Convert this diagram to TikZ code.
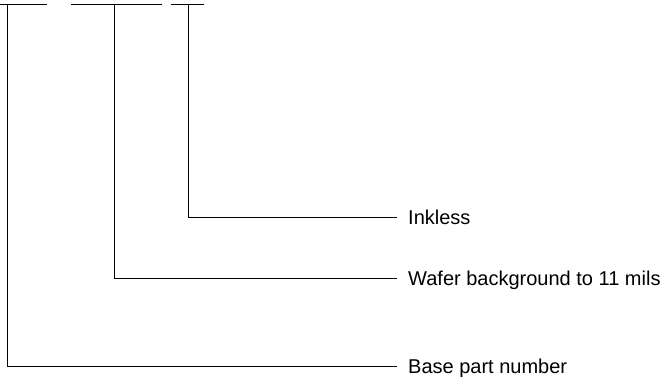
\documentclass[tikz,border=0pt]{standalone}
\usepackage{fontspec}
\setmainfont{Liberation Sans}
\usepackage{tikz}
\tikzset{
  base/.style={draw=black, line width=1pt},
  lab/.style={anchor=west, font=\fontsize{20}{24}\selectfont, text height=14pt, text depth=0pt, inner ysep=0pt, inner xsep=11pt},
}
\begin{document}
\begin{tikzpicture}[x=1pt,y=1pt]
  \useasboundingbox (0,0) rectangle (665,376);
  % bars over the fields of the part number
  \draw[base] (0,371) -- (47,371);
  \draw[base] (71,371) -- (162,371);
  \draw[base] (171,371) -- (204,371);
  \coordinate (partTop) at (7,371);
  \coordinate (waferTop) at (114,371);
  \coordinate (inkTop) at (188,371);

  \node[lab] (inkless) at (397,158.3) {Inkless};
  \node[lab] (wafer) at (397,97.3) {Wafer background to 11 mils};
  \node[lab] (part) at (397,10) {Base part number};

  \draw[base] (inkTop) |- (inkless.west);
  \draw[base] (waferTop) |- (wafer.west);
  \draw[base] (partTop) |- (part.west);
\end{tikzpicture}
\end{document}
